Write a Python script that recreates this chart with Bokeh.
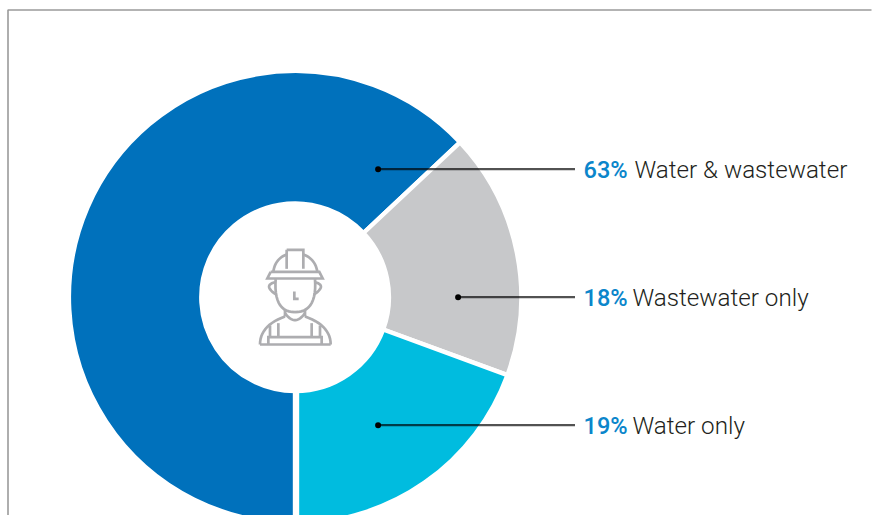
import numpy as np
from bokeh.plotting import figure
from bokeh.models import ColumnDataSource, Range1d
from bokeh.core.properties import value
from bokeh.embed import file_html
from bokeh.resources import INLINE

categories = ["Water & wastewater", "Wastewater only", "Water only"]
share_labels = ["63%", "18%", "19%"]
arc_shares = [63, 17.6, 19.4]  # slice sizes as drawn in the picture
colors = ["#0071bc", "#c7c8ca", "#00bcdf"]

W, H = 873, 515
p = figure(width=W, height=H, output_backend="svg", toolbar_location=None,
           x_range=Range1d(0, W), y_range=Range1d(0, H),
           min_border=0, outline_line_color=None)
p.axis.visible = False
p.grid.visible = False
p.background_fill_color = "white"
p.border_fill_color = "white"

def Y(py):
    return 515 - np.asarray(py, dtype=float)

cx, cy = 294.6, 296.7
R, r = 224.0, 96.0
gap = 4.4

# frame
p.line([7.5, 7.5, 871], Y([515, 9.5, 9.5]), line_color="#9a9a9a", line_width=1.6)

# wedges
fr = np.array(arc_shares) / sum(arc_shares)
a_start = 3 * np.pi / 2 - np.concatenate([[0], np.cumsum(fr)[:-1]]) * 2 * np.pi
a_end = a_start - fr * 2 * np.pi
src = ColumnDataSource(dict(x=[cx] * 3, y=[Y(cy)] * 3, s=a_end, e=a_start, c=colors))
p.annular_wedge(x="x", y="y", inner_radius=r - gap / 2, outer_radius=R + gap / 2,
                start_angle="s", end_angle="e", source=src,
                fill_color="c", line_color="white", line_width=gap)
# the bottom seam sits slightly right of centre in the reference
p.segment([297.2], Y([cy + r - 2]), [297.2], Y([515]), line_color="white", line_width=3)

# leader lines
lead_y = [168.7, 296.7, 424.7]
lead_x0 = [377.6, 457.6, 377.6]
lead_x1 = 574.5
p.segment(lead_x0, Y(lead_y), [lead_x1] * 3, Y(lead_y), line_color="#000000", line_alpha=0.68, line_width=2.2)
p.scatter(lead_x0, Y(lead_y), size=6, marker="circle", fill_color="black", line_color=None)

# labels
text_y = [169, 297, 425]
pct_x = [583, 583, 583]
name_x = [634, 632, 632]
fs = "24.2px"
p.text(pct_x, Y(text_y), text=share_labels, text_font=value("Roboto Medium"),
       text_font_size="23.6px", text_color="#0b86cb", text_baseline="middle", text_align="left")
p.text(name_x, Y(text_y), text=categories, text_font=value("Roboto Light"),
       text_font_size=fs, text_color="#231f20", text_baseline="middle", text_align="left")

# worker icon, traced in a 3x grid
def q(a, b, c, n=14):
    t = np.linspace(0, 1, n)[:, None]
    a, b, c = map(np.array, (a, b, c))
    return ((1 - t) ** 2 * a + 2 * t * (1 - t) * b + t ** 2 * c).tolist()

paths = [
    [(140, 58), (190, 58), (190, 115)], [(140, 58), (140, 115)],
    q((100, 124), (105, 85), (140, 72)), q((190, 72), (226, 85), (232, 124)),
    [(92, 124), (238, 124), (248, 144), (82, 144), (92, 124)],
    q((107, 146), (100, 245), (165, 245)) , q((165, 245), (232, 245), (225, 146)),
    q((105, 155), (68, 165), (108, 192)), q((225, 155), (262, 165), (222, 192)),
    [(163, 183), (163, 205), (176, 205)],
    [(135, 238), (135, 258)], [(195, 238), (195, 258)],
    q((135, 248), (165, 290), (195, 248)),
    q((135, 258), (60, 285), (60, 342)), q((195, 258), (272, 285), (272, 342)),
    [(60, 342), (272, 342)],
    [(85, 342), (85, 320), (245, 320), (245, 342)],
    [(115, 278), (115, 320)], [(215, 278), (215, 320)],
    [(90, 285), (90, 320)], [(240, 285), (240, 320)],
]
xs = [[239.5 + pt[0] / 3 for pt in path] for path in paths]
ys = [list(Y([230 + pt[1] / 3 for pt in path])) for path in paths]
p.multi_line(xs, ys, line_color="#adadb0", line_width=2.7, line_join="miter")

open("out.html", "w").write(file_html(p, INLINE))
